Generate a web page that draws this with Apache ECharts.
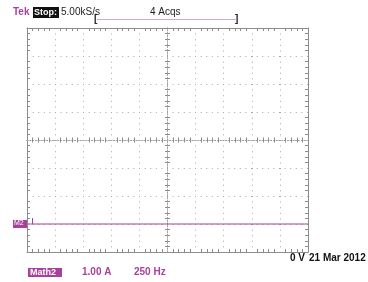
<!DOCTYPE html>
<html>
<head>
<meta charset="utf-8">
<script src="https://cdn.jsdelivr.net/npm/echarts@6/dist/echarts.min.js"></script>
<style>
  html, body { margin: 0; padding: 0; background: #fff; }
  #main { width: 368px; height: 282px; }
</style>
</head>
<body>
<div id="main"></div>
<script>
// trace data (divisions), screen is 10 x 8 divisions
var traceX = [-5, 5];
var traceY = [-3, -3];
var divX = [-5, 5];
var divY = [-4, 4];

var chart = echarts.init(document.getElementById("main"));
var FONT = "Liberation Sans";
var MAG = "#a8409c";
var gridColor = "#8c8c8c";

// one axis; kind: "border" (solid, ticks inward), "centerIn"/"centerOut" (dotted centre line)
function axis(dim, pos, kind, showSplit) {
  var center = kind !== "border";
  return {
    type: "value",
    min: dim === "x" ? divX[0] : divY[0],
    max: dim === "x" ? divX[1] : divY[1],
    interval: 1,
    position: pos,
    axisLine: {
      show: true, onZero: center, onZeroAxisIndex: 0,
      lineStyle: { color: center ? "#a0a0a0" : gridColor, width: 1, type: center ? [1, 1.8] : "solid" }
    },
    axisTick: { show: false, inside: kind !== "centerOut" },
    minorTick: { show: true, splitNumber: 5, length: center ? 2.5 : 3, lineStyle: { color: gridColor } },
    axisLabel: { show: false },
    splitLine: { show: showSplit, lineStyle: { color: "#a8a8a8", type: [1, 4.6], width: 1 } },
    minorSplitLine: { show: false }
  };
}

var option = {
  animation: false,
  backgroundColor: "#ffffff",
  grid: { left: 27, top: 28, width: 281, height: 224, show: false },
  xAxis: [
    axis("x", "bottom", "border", true),
    axis("x", "top", "border", false),
    axis("x", "bottom", "centerIn", false),
    axis("x", "bottom", "centerOut", false)
  ],
  yAxis: [
    axis("y", "left", "border", true),
    axis("y", "right", "border", false),
    axis("y", "left", "centerIn", false),
    axis("y", "left", "centerOut", false)
  ],
  series: [{
    type: "line",
    data: traceX.map(function (x, i) { return [x, traceY[i]]; }),
    showSymbol: false,
    lineStyle: { color: MAG, width: 1.2 },
    z: 5
  }],
  graphic: [
    { type: "text", left: 13, top: 7, style: { text: "Tek", fill: MAG, font: "bold 10px " + FONT } },
    { type: "rect", shape: { x: 33, y: 7, width: 26, height: 11 }, style: { fill: "#111" } },
    { type: "text", left: 34, top: 8, style: { text: "Stop:", fill: "#fff", font: "bold 9px " + FONT } },
    { type: "text", left: 61, top: 7, style: { text: "5.00kS/s", fill: "#222", font: "10px " + FONT } },
    { type: "text", left: 150, top: 7, style: { text: "4 Acqs", fill: "#222", font: "10px " + FONT } },
    { type: "line", shape: { x1: 97, y1: 19.5, x2: 236, y2: 19.5 }, style: { stroke: "#d4a8c8", lineWidth: 1 } },
    { type: "text", left: 94, top: 14, style: { text: "[", fill: "#222", font: "bold 10px " + FONT } },
    { type: "text", left: 235, top: 14, style: { text: "]", fill: "#222", font: "bold 10px " + FONT } },
    { type: "rect", shape: { x: 13, y: 220, width: 14, height: 8 }, style: { fill: MAG } },
    { type: "text", left: 14, top: 220, style: { text: "M2", fill: "#fff", font: "7px " + FONT } },
    { type: "line", shape: { x1: 32.5, y1: 218, x2: 32.5, y2: 224 }, style: { stroke: MAG, lineWidth: 1 } },
    { type: "text", left: 290, top: 253, style: { text: "0 V", fill: "#111", font: "bold 10px " + FONT } },
    { type: "text", left: 309, top: 253, style: { text: "21 Mar 2012", fill: "#111", font: "bold 10px " + FONT } },
    { type: "rect", shape: { x: 28, y: 268, width: 34, height: 9 }, style: { fill: MAG } },
    { type: "text", left: 30, top: 268, style: { text: "Math2", fill: "#fff", font: "bold 9px " + FONT } },
    { type: "text", left: 82, top: 267, style: { text: "1.00 A", fill: MAG, font: "bold 10px " + FONT } },
    { type: "text", left: 134, top: 267, style: { text: "250 Hz", fill: MAG, font: "bold 10px " + FONT } }
  ]
};
chart.setOption(option);
window.addEventListener("resize", function () { chart.resize(); });
</script>
</body>
</html>
